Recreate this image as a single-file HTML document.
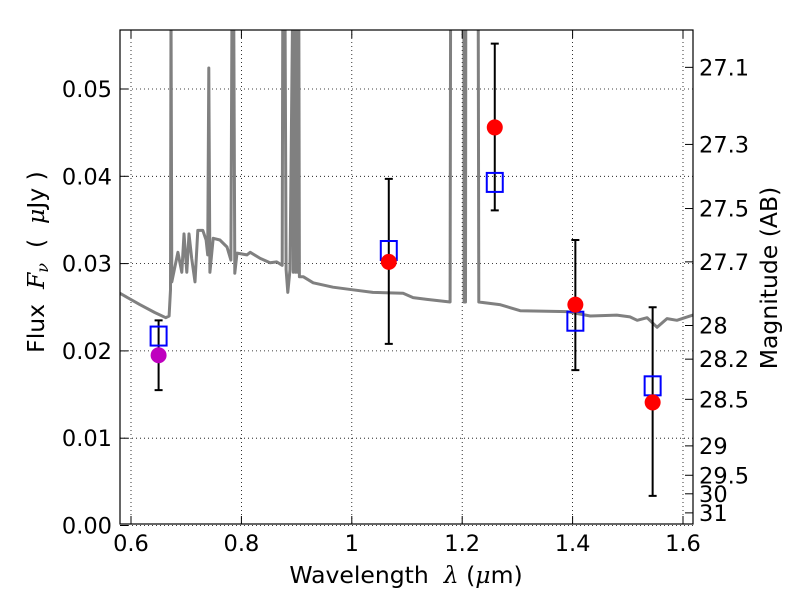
<!DOCTYPE html>
<html><head><meta charset="utf-8"><style>
body{margin:0;background:#fff}
svg{display:block;font-family:"DejaVu Sans","Liberation Sans",sans-serif}
</style></head><body>
<svg id="chart" width="800" height="600"></svg>
<script>
const specLam=[0.580,0.616,0.643,0.663,0.669,0.6716,0.6725,0.674,0.685,0.692,0.696,0.701,0.705,0.710,0.716,0.721,0.730,0.736,0.739,0.741,0.743,0.749,0.761,0.774,0.781,0.783,0.786,0.788,0.792,0.810,0.816,0.834,0.852,0.864,0.874,0.875,0.879,0.881,0.884,0.888,0.893,0.894,0.897,0.898,0.900,0.901,0.904,0.905,0.912,0.930,0.966,1.002,1.038,1.093,1.111,1.136,1.178,1.179,1.203,1.2035,1.206,1.2065,1.229,1.230,1.268,1.305,1.390,1.432,1.480,1.504,1.517,1.535,1.553,1.571,1.589,1.618];
const specFlux=[0.0266,0.0253,0.0244,0.0238,0.0240,0.0270,0.060,0.0279,0.0313,0.0290,0.0334,0.0290,0.0334,0.0306,0.0279,0.0338,0.0338,0.0327,0.0310,0.0524,0.0290,0.0329,0.0327,0.0319,0.0304,0.060,0.060,0.0289,0.0312,0.0310,0.0313,0.0306,0.0301,0.0302,0.0298,0.060,0.060,0.0293,0.0267,0.0293,0.060,0.0290,0.060,0.0290,0.060,0.0290,0.060,0.0285,0.0285,0.0278,0.0273,0.0270,0.0267,0.0266,0.0261,0.0259,0.0256,0.060,0.060,0.0256,0.0256,0.060,0.060,0.0256,0.0253,0.0246,0.0245,0.0240,0.0241,0.0239,0.0235,0.0238,0.0227,0.0237,0.0235,0.0241];
const ptLam=[0.650,1.067,1.259,1.405,1.545];
const obsFlux=[0.0195,0.0302,0.0456,0.0253,0.0141];
const obsColor=["#bf00bf","red","red","red","red"];
const modelFlux=[0.0217,0.0315,0.0393,0.0234,0.0160];
const errHi=[0.0235,0.0397,0.0552,0.0327,0.0250];
const errLo=[0.0155,0.0208,0.0361,0.0178,0.0034];
const xTicks=[0.6,0.8,1.0,1.2,1.4,1.6];
const xTickLabels=["0.6","0.8","1","1.2","1.4","1.6"];
const yTicks=[0,0.01,0.02,0.03,0.04,0.05];
const yTickLabels=["0.00","0.01","0.02","0.03","0.04","0.05"];
const magTicks=[27.1,27.3,27.5,27.7,28,28.2,28.5,29,29.5,30,31];

const L=120,R=693,T=30,B=524;
const sx=v=>131+(v-0.6)*552;
const sy=v=>525.5-v*8730;
const svg=document.getElementById('chart');
const NS="http://www.w3.org/2000/svg";
function mk(tag,attrs,parent){const e=document.createElementNS(NS,tag);for(const k in attrs)e.setAttribute(k,attrs[k]);(parent||svg).appendChild(e);return e;}
const defs=mk('defs',{});const cp=mk('clipPath',{id:'clip'},defs);mk('rect',{x:L,y:T,width:R-L,height:B-T},cp);

xTicks.forEach(v=>{const g=mk('line',{x1:sx(v),x2:sx(v),y1:T,y2:B,stroke:'#000','stroke-dasharray':'1,3','stroke-width':0.8});

});
yTicks.forEach(v=>{const g=mk('line',{x1:L,x2:R,y1:sy(v),y2:sy(v),stroke:'#000','stroke-dasharray':'1,3','stroke-width':0.8});

});

const pts=specLam.map((l,i)=>sx(l).toFixed(1)+','+sy(specFlux[i]).toFixed(1)).join(' ');
const sp=mk('polyline',{points:pts,fill:'none',stroke:'#808080','stroke-width':3,'clip-path':'url(#clip)','stroke-linejoin':'round'});



ptLam.forEach((l,i)=>{
 const x=sx(l);
 const eb=mk('path',{d:`M${x},${sy(errHi[i])}V${sy(errLo[i])}M${x-4},${sy(errHi[i])}H${x+4}M${x-4},${sy(errLo[i])}H${x+4}`,stroke:'#000','stroke-width':2,fill:'none','clip-path':'url(#clip)'});
 
 
 const sq=mk('rect',{x:x-8,y:sy(modelFlux[i])-9.5,width:16,height:19,fill:'none',stroke:'blue','stroke-width':2});
 
 
 const c=mk('circle',{cx:x,cy:sy(obsFlux[i]),r:8,fill:obsColor[i]});
 
 
});

const fr=mk('rect',{x:L,y:T,width:R-L,height:B-T,fill:'none',stroke:'#000','stroke-width':1.2});



xTicks.forEach((v,i)=>{const x=sx(v);
 mk('line',{x1:x,x2:x,y1:B,y2:B-8,stroke:'#000'});mk('line',{x1:x,x2:x,y1:T,y2:T+8,stroke:'#000'});
 const t=mk('text',{x:x,y:B+27,'text-anchor':'middle','font-size':22.5});t.textContent=xTickLabels[i];
 
 });
yTicks.forEach((v,i)=>{const y=sy(v);
 mk('line',{x1:L,x2:L+8,y1:y,y2:y,stroke:'#000'});
 const t=mk('text',{x:L-8,y:y+8,'text-anchor':'end','font-size':22.5});t.textContent=yTickLabels[i];
 
 });
magTicks.forEach(m=>{const y=sy(Math.pow(10,(23.9-m)/2.5));
 mk('line',{x1:R,x2:R-8,y1:y,y2:y,stroke:'#000'});
 const t=mk('text',{x:R+6,y:y+8,'font-size':22.5});t.textContent=String(m);
 
 });

const xt=mk('text',{x:406,y:583,'text-anchor':'middle','font-size':23.5});
xt.innerHTML='Wavelength&#160; <tspan font-family="DejaVu Serif,serif" font-style="italic">λ</tspan> (<tspan font-family="DejaVu Serif,serif" font-style="italic">μ</tspan>m)';


const yt=mk('text',{x:0,y:0,'text-anchor':'middle','font-size':23.5,transform:'translate(44,262) rotate(-90)'});
yt.innerHTML='Flux&#160; <tspan font-family="DejaVu Serif,serif" font-style="italic">F<tspan font-size="16" dy="4">ν</tspan></tspan><tspan dy="-4">&#160; (&#160; </tspan><tspan font-family="DejaVu Serif,serif" font-style="italic">μ</tspan>Jy )';


const rt=mk('text',{x:0,y:0,'text-anchor':'middle','font-size':23.5,transform:'translate(777,278) rotate(-90)'});
rt.textContent='Magnitude (AB)';


</script>
</body></html>
